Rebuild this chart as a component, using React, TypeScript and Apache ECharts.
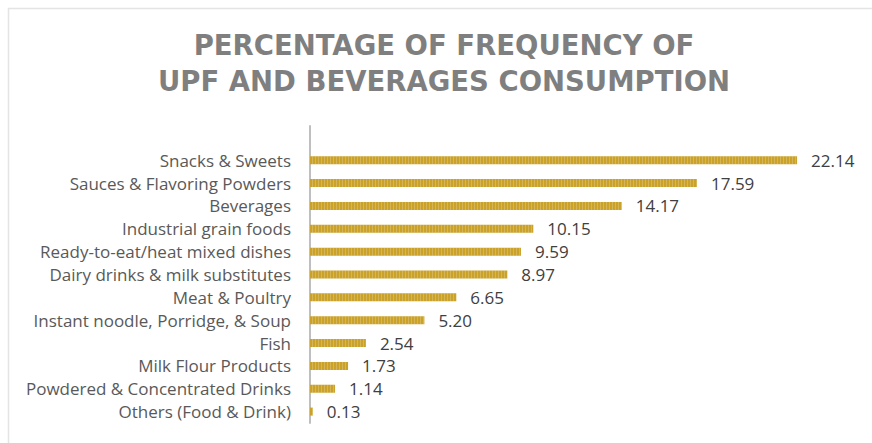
import React, { useEffect, useRef } from "react";
import * as echarts from "echarts";

const categories = [
  "Snacks & Sweets",
  "Sauces & Flavoring Powders",
  "Beverages",
  "Industrial grain foods",
  "Ready-to-eat/heat mixed dishes",
  "Dairy drinks & milk substitutes",
  "Meat & Poultry",
  "Instant noodle, Porridge, & Soup",
  "Fish",
  "Milk Flour Products",
  "Powdered & Concentrated Drinks",
  "Others (Food & Drink)",
];
const values = [22.14, 17.59, 14.17, 10.15, 9.59, 8.97, 6.65, 5.2, 2.54, 1.73, 1.14, 0.13];
const titleLines = ["PERCENTAGE OF FREQUENCY OF", "UPF AND BEVERAGES CONSUMPTION"];

export default function App() {
  const ref = useRef<HTMLDivElement>(null);
  useEffect(() => {
    if (!ref.current) return;
    const chart = echarts.init(ref.current, undefined, { renderer: "svg" });
    chart.setOption({
      animation: false,
      backgroundColor: "#ffffff",
      title: {
        text: titleLines.join("\n"),
        left: 444,
        textAlign: "center",
        top: 27,
        padding: 0,
        textStyle: {
          fontFamily: "DejaVu Sans",
          fontWeight: "bold",
          fontSize: 27.5,
          lineHeight: 36,
          color: "#7f7f7f",
        },
      },
      graphic: [
        { type: "line", shape: { x1: 8, y1: 8.5, x2: 872, y2: 8.5 }, style: { stroke: "#e4e4e4", lineWidth: 1.5 } },
        { type: "line", shape: { x1: 8.5, y1: 8, x2: 8.5, y2: 443 }, style: { stroke: "#e4e4e4", lineWidth: 1.5 } },
      ],
      grid: { left: 310, right: 12, top: 126, bottom: 20, containLabel: false },
      xAxis: {
        type: "value",
        min: 0,
        max: 25,
        axisLine: { show: false },
        axisTick: { show: false },
        axisLabel: { show: false },
        splitLine: { show: false },
      },
      yAxis: {
        type: "category",
        inverse: true,
        data: ["", ...categories],
        axisLine: { show: true, lineStyle: { color: "#bfbfbf", width: 2 } },
        axisTick: { show: false },
        axisLabel: {
          margin: 19,
          fontFamily: "Open Sans",
          fontSize: 17,
          color: "#595959",
        },
      },
      series: [
        {
          type: "bar",
          data: [null, ...values],
          barWidth: 8,
          itemStyle: {
            color: "#caa22a",
            decal: {
              symbol: "rect",
              symbolSize: 1,
              dashArrayX: [1, 2],
              dashArrayY: [40, 0],
              rotation: 0,
              color: "rgba(255,255,255,0.2)",
            },
          },
          label: {
            show: true,
            position: "right",
            distance: 14,
            fontFamily: "Open Sans",
            fontSize: 17,
            color: "#404040",
            formatter: (p: any) => (p.value == null ? "" : Number(p.value).toFixed(2)),
          },
        },
      ],
    });
    return () => chart.dispose();
  }, []);
  return <div ref={ref} style={{ position: "absolute", left: 0, top: 0, width: 872, height: 443 }} />;
}
